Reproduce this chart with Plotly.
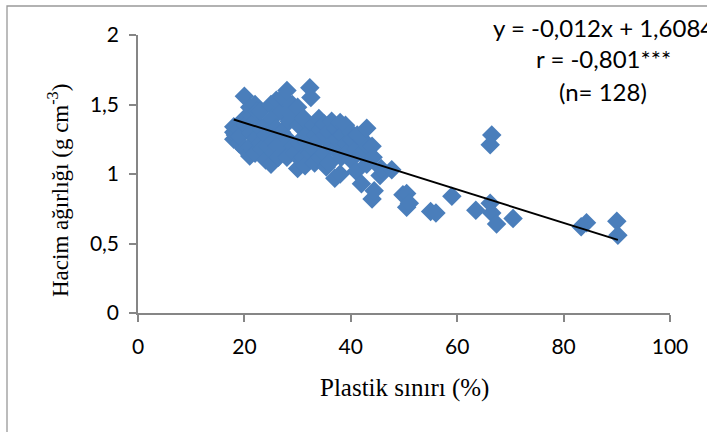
import plotly.graph_objects as go

# Plastik sınırı (%) values
plastic_limit = [
    18, 18, 18, 18.3,
    19, 19, 19.2,
    20, 20, 20, 20.2,
    21, 21, 21, 21.2, 21.4,
    22, 22, 22, 22.2, 22.4,
    23, 23, 23.2, 23.4,
    24, 24, 24.2, 24.4,
    25, 25, 25.2, 25.4, 25.6,
    26, 26, 26.2, 26.4,
    27, 27, 27.2, 27.4,
    28, 28, 28.2, 28.4,
    29, 29, 29.2, 29.4,
    30, 30, 30.2, 30.4, 30.6,
    31, 31, 31.2, 31.4,
    32.3, 32.5, 32, 32.2, 32.4,
    33, 33, 33.2, 33.4,
    34, 34, 34.2, 34.4,
    35, 35, 35.2, 35.4,
    36, 36, 36.2, 36.4,
    37, 37, 37.2, 37.4,
    38, 38, 38.2, 38.4,
    39, 39, 39.2,
    40, 40, 40.2,
    41, 41, 41.2,
    42, 42, 42.2,
    43, 43, 43.2,
    44, 44, 44.2, 44.4,
    45.5, 45.7,
    47.7,
    49.8, 50.5, 50.5, 51, 55, 56, 59, 63.5, 66.2, 66.5, 67.4, 70.5,
    66.5, 66.2, 83.3, 84.3, 90, 90.2,
]

# Hacim ağırlığı (g cm-3) values
bulk_density = [
    1.25, 1.30, 1.34, 1.28,
    1.22, 1.32, 1.27,
    1.56, 1.18, 1.40, 1.35,
    1.13, 1.48, 1.20, 1.30, 1.42,
    1.50, 1.15, 1.38, 1.26, 1.45,
    1.45, 1.22, 1.32, 1.18,
    1.10, 1.28, 1.36, 1.20,
    1.07, 1.50, 1.40, 1.24, 1.15,
    1.53, 1.33, 1.20, 1.12,
    1.30, 1.45, 1.55, 1.18,
    1.60, 1.12, 1.25, 1.38,
    1.50, 1.42, 1.20, 1.15,
    1.48, 1.04, 1.35, 1.22, 1.10,
    1.26, 1.12, 1.40, 1.06,
    1.62, 1.55, 1.22, 1.30, 1.15,
    1.35, 1.18, 1.08, 1.28,
    1.40, 1.25, 1.12, 1.32,
    1.36, 1.15, 1.28, 1.05,
    1.08, 1.30, 1.22, 1.38,
    0.97, 1.18, 1.33, 1.25,
    1.37, 1.00, 1.12, 1.28,
    1.35, 1.22, 1.15,
    1.30, 1.10, 1.25,
    1.02, 1.18, 1.28,
    0.93, 1.15, 1.25,
    1.33, 1.07, 1.20,
    1.20, 0.82, 1.12, 0.88,
    0.99, 1.04,
    1.03,
    0.85, 0.86, 0.76, 0.79, 0.73, 0.72, 0.84, 0.74, 0.79, 0.72, 0.64, 0.68,
    1.28, 1.21, 0.62, 0.65, 0.66, 0.56,
]

# Trend line (from the chart's equation)
slope = -0.012
intercept = 1.6084
equation_text = "y = -0,012x + 1,6084"
r_text = "r = -0,801***"
n_text = "(n= 128)"

x_ticks = [0, 20, 40, 60, 80, 100]
y_ticks = [0, 0.5, 1, 1.5, 2]
y_tick_labels = ["0", "0,5", "1", "1,5", "2"]

trend_x = [min(plastic_limit), max(plastic_limit)]
trend_y = [slope * v + intercept for v in trend_x]

fig = go.Figure()
fig.add_trace(go.Scatter(
    x=plastic_limit, y=bulk_density, mode="markers",
    marker=dict(symbol="diamond", size=15, color="#4A7EBB", line=dict(width=0)),
    showlegend=False, cliponaxis=False,
))
fig.add_trace(go.Scatter(
    x=trend_x, y=trend_y, mode="lines",
    line=dict(color="black", width=2),
    showlegend=False,
))

W, H = 707, 432
L, R, T, B = 138, 37, 35, 119
pw, ph = W - L - R, H - T - B

def px(xp):
    return (xp - L) / pw

def py(yp):
    return (H - B - yp) / ph

axis_common = dict(
    showgrid=False, zeroline=False, showline=True, linecolor="#868686", linewidth=1.5,
    ticks="outside", ticklen=7, tickcolor="#868686", tickwidth=1.5,
    tickfont=dict(family="Lato", size=21, color="black"),
)

fig.update_layout(
    width=W, height=H,
    margin=dict(l=L, r=R, t=T, b=B),
    plot_bgcolor="white", paper_bgcolor="white",
    xaxis=dict(range=[0, 100], tickvals=x_ticks, ticklabelstandoff=7, **axis_common),
    yaxis=dict(range=[0, 2], tickvals=y_ticks, ticktext=y_tick_labels, ticklabelstandoff=6, **axis_common),
    showlegend=False,
)

serif_x = dict(family="Liberation Serif", size=25, color="black")
serif_y = dict(family="Liberation Serif", size=23, color="black")
sans = dict(family="Lato", size=24, color="black")

fig.add_annotation(xref="paper", yref="paper", x=px(404), y=py(388),
                   text="Plastik sınırı (%)", showarrow=False, font=serif_x,
                   xanchor="center", yanchor="middle")
fig.add_annotation(xref="paper", yref="paper", x=px(58), y=py(191),
                   text="Hacim ağırlığı (g cm<sup>-3</sup>)", showarrow=False, font=serif_y,
                   textangle=-90, xanchor="center", yanchor="middle")
fig.add_annotation(xref="paper", yref="paper", x=px(603), y=py(28),
                   text=equation_text, showarrow=False, font=sans,
                   xanchor="center", yanchor="middle")
fig.add_annotation(xref="paper", yref="paper", x=px(603), y=py(58),
                   text=r_text, showarrow=False, font=sans,
                   xanchor="center", yanchor="middle")
fig.add_annotation(xref="paper", yref="paper", x=px(603), y=py(92),
                   text=n_text, showarrow=False, font=sans,
                   xanchor="center", yanchor="middle")

# chart border (cropped at right and bottom in the original)
fig.add_shape(type="rect", xref="paper", yref="paper",
              x0=px(7), y0=py(6), x1=px(W + 20), y1=py(H + 20),
              line=dict(color="#999999", width=1.3), layer="below")

fig.write_html(
    "out.html",
    config={"displayModeBar": False},
    post_script="document.body.style.margin='0';document.body.style.overflow='hidden';",
)
